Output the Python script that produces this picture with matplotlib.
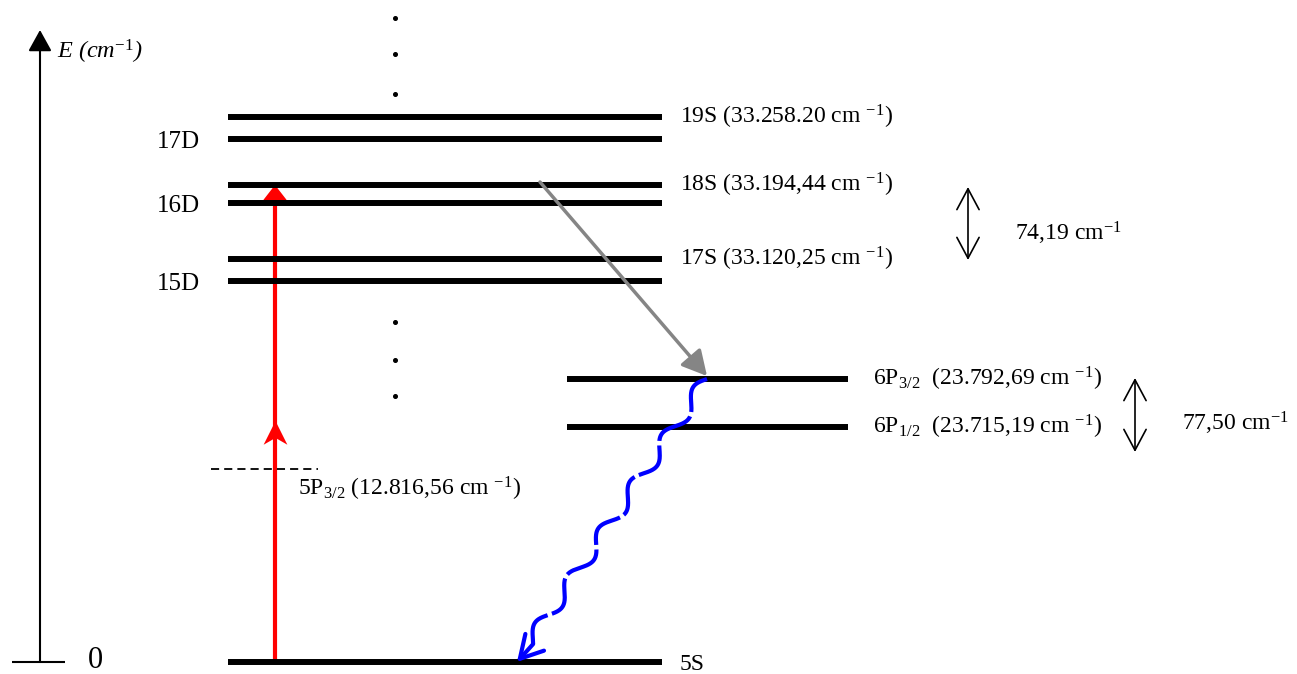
# Diagrama de níveis de energia do Rb (esquema, fora de escala)
import numpy as np
import matplotlib
matplotlib.use('Agg')
import matplotlib.pyplot as plt
from matplotlib.path import Path

plt.rcParams['font.family'] = ['Liberation Serif', 'DejaVu Serif']
plt.rcParams['mathtext.fontset'] = 'custom'
plt.rcParams['mathtext.rm'] = 'Liberation Serif'
plt.rcParams['mathtext.it'] = 'Liberation Serif:italic'

# Níveis S e D (altura no esquema, eixo invertido)
niveis_s = ['19S', '18S', '17S']
energia_s = ['33.258.20', '33.194,44', '33.120,25']
y_s = [117, 185, 259]
niveis_d = ['17D', '16D', '15D']
y_d = [139, 203, 281]

# Níveis 6P
niveis_6p = ['6P$_{3/2}$', '6P$_{1/2}$']
energia_6p = ['23.792,69', '23.715,19']
y_6p = [379, 427]

# Nível intermediário virtual 5P3/2 e fundamental 5S
nivel_5p = '5P$_{3/2}$'
energia_5p = '12.816,56'
y_5p = 469
y_5s = 662

# Separações de estrutura fina
separacoes = ['74,19', '77,50']

FS = 17
SUP = ' $^{-1}$'

fig = plt.figure(figsize=(12.97, 6.74), dpi=100)
ax = fig.add_axes([0, 0, 1, 1])
ax.set_xlim(0, 1297)
ax.set_ylim(674, 0)
ax.axis('off')

# Eixo de energia
ax.annotate('', xy=(40, 30), xytext=(40, y_5s),
            arrowprops=dict(arrowstyle='-|>,head_length=0.65,head_width=0.36',
                            color='k', lw=1.5, mutation_scale=20,
                            shrinkA=0, shrinkB=0))
ax.hlines(y_5s, 12, 65, color='k', lw=1.5)
ax.text(88, y_5s - 2, '0', fontsize=22, va='center', ha='left')
ax.text(57, 52, 'E (cm$^{-1}$)', fontsize=FS + 0.5, style='italic', va='center', ha='left')

# Níveis
ax.hlines(y_s + y_d, 228, 662, color='k', lw=4.3, zorder=3)
ax.hlines(y_6p, 567, 848, color='k', lw=4.3, zorder=3)
ax.hlines(y_5s, 228, 662, color='k', lw=4.3, zorder=3)
ax.hlines(y_5p, 211, 318, color='k', lw=1.3, linestyles=(0, (4.5, 2.8)), zorder=3)

for nome, e, y in zip(niveis_s, energia_s, y_s):
    ax.text(680, y, f'{nome} ({e} cm' + SUP + ')', fontsize=FS, va='center', ha='left')
for nome, y in zip(niveis_d, y_d):
    ax.text(200, y + 3, nome, fontsize=18, va='center', ha='right')
for nome, e, y in zip(niveis_6p, energia_6p, y_6p):
    ax.text(873, y, f'{nome}  ({e} cm' + SUP + ')', fontsize=FS, va='center', ha='left')
ax.text(298, y_5p + 20, f'{nivel_5p} ({energia_5p} cm' + SUP + ')', fontsize=FS,
        va='center', ha='left')
ax.text(680, y_5s + 3, '5S', fontsize=FS, va='center', ha='left')

# Reticências entre os níveis
ax.plot([395] * 3, [18, 54, 94], 'ko', ms=2.6)
ax.plot([395] * 3, [322, 360, 396], 'ko', ms=2.6)

# Excitação de dois fótons (vermelho)
ax.annotate('', xy=(275, y_s[1]), xytext=(275, y_5s),
            arrowprops=dict(arrowstyle='-|>,head_length=0.45,head_width=0.35',
                            color='red', lw=3, mutation_scale=20,
                            shrinkA=0, shrinkB=0), zorder=2)
seta = Path([(0, 1), (0.95, -0.9), (0, -0.35), (-0.95, -0.9), (0, 1)],
            [Path.MOVETO, Path.LINETO, Path.LINETO, Path.LINETO, Path.CLOSEPOLY])
ax.plot(275, 433, marker=seta, ms=18, color='red', mec='red', mew=0, zorder=2)

# Decaimento 18S -> 6P3/2 (cinza)
ax.annotate('', xy=(707, y_6p[0] - 3), xytext=(540, 182),
            arrowprops=dict(arrowstyle='-|>,head_length=0.75,head_width=0.4',
                            color='#858585', lw=2.5, mutation_scale=20,
                            shrinkA=0, shrinkB=0), zorder=4)

# Fóton emitido 6P3/2 -> 5S (linha ondulada azul)
p0 = np.array([707.0, y_6p[0]])
p1 = np.array([517.0, y_5s])
d = p1 - p0
u = d / np.hypot(*d)
perp = np.array([-u[1], u[0]])
t = np.linspace(0, 0.93, 800)
amp = 7.0
onda = -amp * np.sin(2 * np.pi * 6 * t)
xw = p0[0] + t * d[0] - onda * perp[0]
yw = p0[1] + t * d[1] - onda * perp[1]
ax.plot(xw, yw, color='#0000ff', lw=3, ls=(0, (10, 1.1)), zorder=4)
ax.annotate('', xy=(p1[0], p1[1]), xytext=(xw[-1], yw[-1]),
            arrowprops=dict(arrowstyle='->,head_length=0.8,head_width=0.45',
                            color='#0000ff', lw=3, mutation_scale=20,
                            shrinkA=0, shrinkB=0), zorder=4)

# Separações de estrutura fina
for x, (ya, yb), yt, sep in zip([968, 1135], [(187, 260), (378, 452)], [233, 423],
                                separacoes):
    ax.annotate('', xy=(x, ya), xytext=(x, yb),
                arrowprops=dict(arrowstyle='<->,head_length=0.75,head_width=0.4',
                                color='k', lw=1.2, mutation_scale=20,
                                shrinkA=0, shrinkB=0))
    ax.text(x + 47, yt, f'{sep} cm$^{{-1}}$', fontsize=FS, va='center', ha='left')

fig.savefig('out.png', dpi=100)
